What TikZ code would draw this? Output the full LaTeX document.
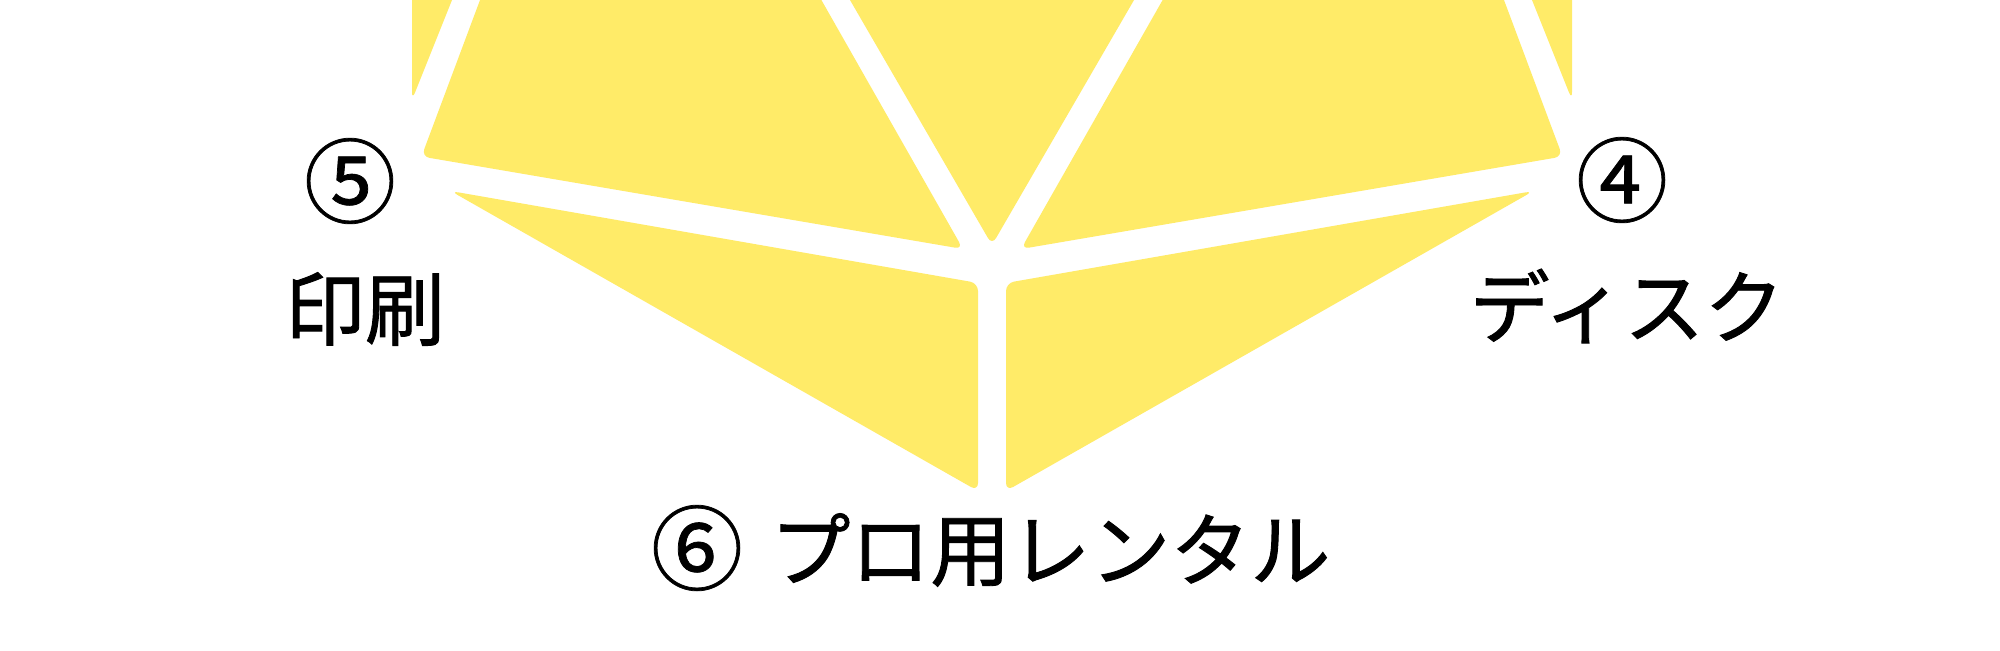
\documentclass[tikz,border=0pt]{standalone}
\usepackage{fontspec}
\newfontfamily\jpfont[FakeBold=1.1]{Noto Sans CJK JP}
\newfontfamily\numfont[FakeBold=0.8]{Noto Sans CJK JP}
\definecolor{pieceyellow}{RGB}{255,235,104}
\tikzset{
  piece/.style={fill=pieceyellow, draw=none, rounded corners=4pt},
  lbl/.style={font=\jpfont\fontsize{40}{48}\selectfont, inner sep=0pt, text=black},
  num/.style={font=\numfont\fontsize{46}{54}\selectfont, inner sep=0pt, text=black}
}
\begin{document}
\begin{tikzpicture}[x=0.5pt,y=-0.5pt]
\useasboundingbox (0,0) rectangle (2000,650);
\fill[white] (0,0) rectangle (2000,650);
\begin{scope}
\clip (0,0) rectangle (2000,650);
% left sliver
\fill[piece] (412,-20) -- (460,-20) -- (412,100) -- cycle;
% left upper piece
\fill[piece] (487.5,-20) -- (421.5,156.5) -- (963,249) -- (810,-20) -- cycle;
% middle piece
\fill[piece] (838.4,-20) -- (992,245) -- (1145.6,-20) -- cycle;
% right upper piece
\fill[piece] (1496.5,-20) -- (1562.5,156.5) -- (1021,249) -- (1174,-20) -- cycle;
% right sliver
\fill[piece] (1572,-20) -- (1524,-20) -- (1572,100) -- cycle;
% bottom left
\fill[piece] (450.6,191) -- (978,283) -- (978,491) -- cycle;
% bottom right
\fill[piece] (1533.4,191) -- (1006,283) -- (1006,491) -- cycle;
\end{scope}
\node[num] (n5) at (350,181) {⑤};
\node[lbl] (t5) at (365,309) {印刷};
\node[num] (n4) at (1622,180) {④};
\node[lbl] (t4) at (1627,306) {ディスク};
\node[num] (n6) at (697,548) {⑥};
\node[lbl, anchor=west] (t6) at (770,550) {プロ用レンタル};
\end{tikzpicture}
\end{document}
